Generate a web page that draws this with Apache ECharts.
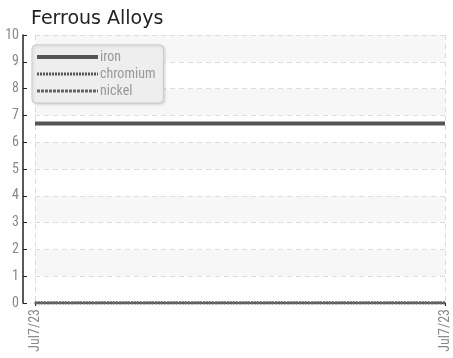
<!DOCTYPE html>
<html>
<head>
<meta charset="utf-8">
<script src="https://cdn.jsdelivr.net/npm/echarts@6/dist/echarts.min.js"></script>
<style>
  html, body { margin: 0; padding: 0; background: #fff; }
  #chart { width: 453px; height: 358px; }
</style>
</head>
<body>
<div id="chart"></div>
<script>
// values
const dates = ['Jul7/23', 'Jul7/23']
const iron = [6.7, 6.7]
const chromium = [0, 0]
const nickel = [0, 0]
const yTicks = [0, 10, 1] // min, max, step

const narrow = "'Liberation Sans Narrow', 'Roboto Condensed', 'DejaVu Sans Condensed', sans-serif"

const myChart = echarts.init(document.getElementById('chart'))

myChart.setOption({
  animation: false,
  title: {
    text: 'Ferrous Alloys',
    left: 26,
    top: 5,
    textStyle: { fontFamily: 'DejaVu Sans', fontSize: 19, fontWeight: 'normal', color: '#222' }
  },
  legend: {
    orient: 'vertical',
    left: 32,
    top: 45,
    padding: [5, 8, 5, 3],
    itemGap: 3,
    itemWidth: 61,
    itemHeight: 14,
    backgroundColor: '#eeeeee',
    borderColor: '#cccccc',
    borderWidth: 1,
    borderRadius: 4,
    shadowColor: 'rgba(0,0,0,0.15)',
    shadowBlur: 3,
    shadowOffsetX: 1,
    shadowOffsetY: 1,
    itemStyle: { opacity: 0 },
    textStyle: { fontFamily: narrow, fontSize: 14, color: '#999', padding: [0, 0, 0, -3] },
    data: [
      { name: 'iron', lineStyle: { width: 4, color: '#555', type: 'solid' } },
      { name: 'chromium', lineStyle: { width: 3, color: '#555', type: [2, 1] } },
      { name: 'nickel', lineStyle: { width: 3, color: '#666', type: [3, 1] } }
    ]
  },
  grid: { left: 35, right: 8, top: 35, bottom: 55 },
  xAxis: {
    type: 'category',
    boundaryGap: false,
    data: dates,
    axisLine: { lineStyle: { color: '#222', width: 1.5 } },
    axisTick: { show: true, length: 3, lineStyle: { color: '#222' } },
    axisLabel: { rotate: 90, color: '#888', fontFamily: narrow, fontSize: 14, margin: 6 },
    splitLine: { show: true, lineStyle: { color: '#dddddd', type: [5, 4] } }
  },
  yAxis: {
    type: 'value',
    min: yTicks[0],
    max: yTicks[1],
    interval: yTicks[2],
    offset: 12,
    axisLine: { show: true, lineStyle: { color: '#222', width: 1.5 } },
    axisTick: { show: true, length: 4, inside: true, lineStyle: { color: '#222' } },
    axisLabel: { color: '#888', fontFamily: narrow, fontSize: 14, margin: 4 },
    splitLine: { lineStyle: { color: '#dddddd', type: [5, 4] } },
    splitArea: { show: true, areaStyle: { color: ['#ffffff', '#f7f7f7'] } }
  },
  series: [
    {
      name: 'iron',
      type: 'line',
      data: iron,
      symbol: 'none',
      color: '#555',
      lineStyle: { width: 4, color: '#555' }
    },
    {
      name: 'chromium',
      type: 'line',
      data: chromium,
      symbol: 'none',
      color: '#555',
      lineStyle: { width: 3, color: '#555', type: [2, 1] }
    },
    {
      name: 'nickel',
      type: 'line',
      data: nickel,
      symbol: 'none',
      color: '#666',
      lineStyle: { width: 3, color: '#666', type: [3, 1] }
    }
  ]
})
</script>
</body>
</html>
